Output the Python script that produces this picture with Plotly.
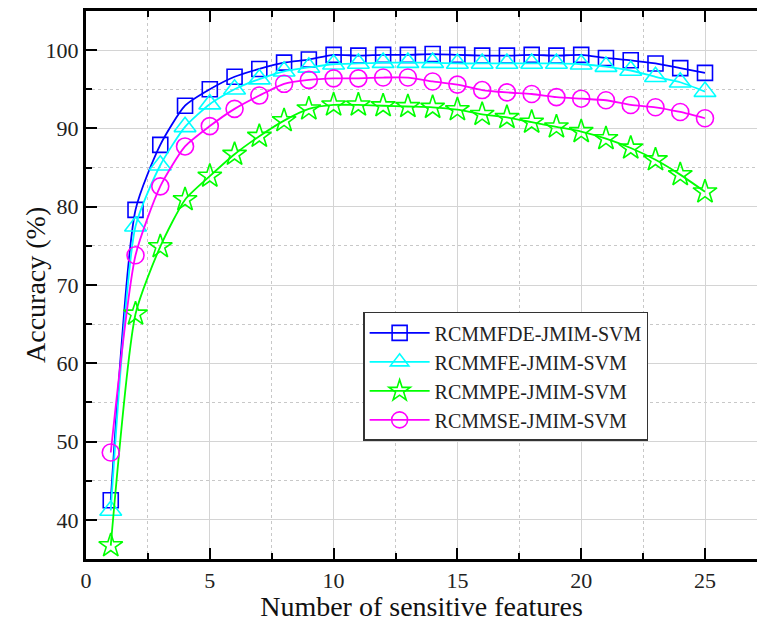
import plotly.graph_objects as go

# Number of selected sensitive features
features = list(range(1, 26))

# Classification accuracy (%) for each feature-extraction method
acc_rcmmfde = [42.5, 79.6, 87.9, 92.9, 95.0, 96.6, 97.6, 98.4, 98.8, 99.4,
               99.3, 99.4, 99.4, 99.5, 99.4, 99.3, 99.3, 99.4, 99.3, 99.4,
               99.0, 98.7, 98.3, 97.7, 97.1]
acc_rcmmfe = [41.2, 77.5, 85.3, 90.2, 93.1, 95.0, 96.3, 97.3, 97.8, 98.2,
              98.3, 98.4, 98.4, 98.4, 98.3, 98.3, 98.3, 98.3, 98.3, 98.2,
              97.9, 97.4, 96.6, 95.9, 94.7]
acc_rcmmpe = [36.7, 66.3, 74.9, 80.9, 83.9, 86.7, 89.0, 91.0, 92.5, 93.0,
              93.0, 92.9, 92.8, 92.7, 92.4, 91.8, 91.4, 90.8, 90.2, 89.6,
              88.7, 87.5, 86.0, 84.1, 81.9]
acc_rcmmse = [48.6, 73.8, 82.6, 87.7, 90.3, 92.5, 94.2, 95.7, 96.2, 96.4,
              96.4, 96.5, 96.5, 96.0, 95.6, 94.9, 94.6, 94.4, 94.0, 93.8,
              93.6, 93.0, 92.7, 92.1, 91.3]

series_names = ["RCMMFDE-JMIM-SVM", "RCMMFE-JMIM-SVM",
                "RCMMPE-JMIM-SVM", "RCMMSE-JMIM-SVM"]
series_values = [acc_rcmmfde, acc_rcmmfe, acc_rcmmpe, acc_rcmmse]
series_colors = ["#0000FF", "#00FFFF", "#00FF00", "#FF00FF"]
series_symbols = ["square-open", "triangle-up-open", "star-open", "circle-open"]
series_sizes = [15, 19, 18, 17]

serif = "Liberation Serif"

fig = go.Figure()
for name, vals, col, sym, sz in zip(series_names, series_values,
                                    series_colors, series_symbols, series_sizes):
    fig.add_trace(go.Scatter(
        x=features, y=vals, name=name, mode="lines+markers",
        line=dict(color=col, width=1.8, shape="spline", smoothing=0.6),
        marker=dict(symbol=sym, size=sz, color=col, line=dict(color=col, width=1.6)),
    ))

grid_major = "#d4d4d4"
grid_minor = "#c8c8c8"

fig.update_layout(
    width=757, height=622,
    margin=dict(l=86, r=0, t=11, b=63),
    paper_bgcolor="white", plot_bgcolor="white",
    font=dict(family=serif, color="#222222", size=20),
    showlegend=True,
    legend=dict(
        x=0.413, y=0.451, xanchor="left", yanchor="top",
        bgcolor="white", bordercolor="#333333", borderwidth=1.5,
        font=dict(family=serif, size=20, color="#222222"),
        tracegroupgap=0, itemwidth=60,
    ),
    xaxis=dict(
        range=[0, 27.1], tickmode="linear", tick0=0, dtick=5,
        showline=True, linecolor="black", linewidth=3, mirror="ticks",
        ticks="inside", ticklen=11, tickwidth=2, tickcolor="black",
        showgrid=True, gridcolor=grid_major, gridwidth=1,
        zeroline=False,
        minor=dict(dtick=2.5, ticks="inside", ticklen=6, tickwidth=2,
                   tickcolor="black", showgrid=True, gridcolor=grid_minor,
                   griddash="dot", gridwidth=1),
        tickfont=dict(family=serif, size=22, color="#222222"),
        title=dict(text="Number of sensitive features",
                   font=dict(family=serif, size=28, color="#111111"), standoff=2),
    ),
    yaxis=dict(
        range=[35, 105], tickmode="linear", tick0=40, dtick=10,
        showline=True, linecolor="black", linewidth=3,
        ticks="inside", ticklen=11, tickwidth=2, tickcolor="black",
        showgrid=True, gridcolor=grid_major, gridwidth=1,
        zeroline=False,
        minor=dict(dtick=5, ticks="inside", ticklen=6, tickwidth=2,
                   tickcolor="black", showgrid=True, gridcolor=grid_minor,
                   griddash="dot", gridwidth=1),
        tickfont=dict(family=serif, size=22, color="#222222"),
    ),
    annotations=[dict(
        text="Accuracy (%)", textangle=-90, showarrow=False,
        xref="paper", yref="paper", x=-0.076, y=0.5,
        xanchor="center", yanchor="middle",
        font=dict(family=serif, size=28, color="#111111"),
    )],
)

fig.write_html("out.html")
